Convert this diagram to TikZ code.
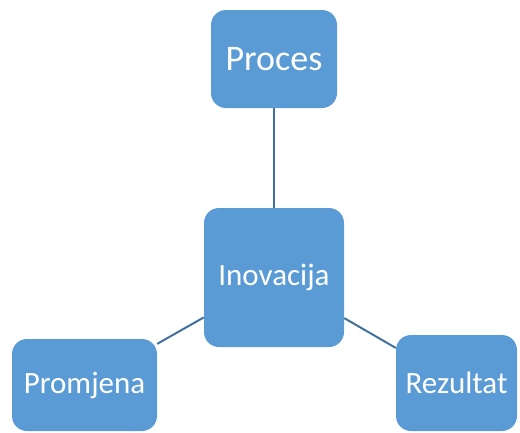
\documentclass[tikz,border=0pt]{standalone}
\usepackage{fontspec}
\setmainfont{Carlito}
\definecolor{boxblue}{HTML}{5B9BD5}
\definecolor{linkblue}{HTML}{41719C}
\tikzset{
  idea/.style={draw=none, fill=boxblue, rounded corners=15pt, text=white, inner sep=0pt},
  link/.style={draw=linkblue, line width=2pt}
}
\begin{document}
\begin{tikzpicture}[x=1pt, y=-1pt]
	\useasboundingbox (0,0) rectangle (520,432);

	\node[idea, minimum width=126pt, minimum height=98pt, font=\fontsize{36}{40}\selectfont] (Proces) at (274, 59) {Proces};
	\node[idea, minimum width=140pt, minimum height=139pt, font=\fontsize{31}{36}\selectfont] (Inovacija) at (274, 277.5) {Inovacija};
	\node[idea, minimum width=145pt, minimum height=92pt, font=\fontsize{31}{36}\selectfont] (Promjena) at (84.5, 385) {Promjena};
	\node[idea, minimum width=121pt, minimum height=96pt, font=\fontsize{31}{36}\selectfont] (Rezultat) at (456.5, 383) {Rezultat};

	\draw[link] (Proces) -- (Inovacija);
	\draw[link] (Inovacija) -- (Promjena);
	\draw[link] (Inovacija) -- (Rezultat);
\end{tikzpicture}
\end{document}
